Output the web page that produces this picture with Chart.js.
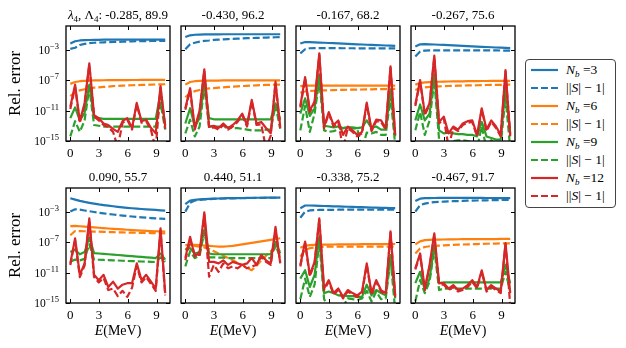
<!DOCTYPE html>
<html>
<head>
<meta charset="utf-8">
<script src="https://cdn.jsdelivr.net/npm/chart.js@4.4.0/dist/chart.umd.min.js"></script>
<style>
  body { margin: 0; background: #fff; width: 626px; height: 348px; overflow: hidden; position: relative;
         font-family: 'Liberation Serif', 'DejaVu Serif', serif; }
  canvas { position: absolute; }
  #legend { position: absolute; left: 525px; top: 59px; width: 91px; height: 149px; box-sizing: border-box;
            border: 1px solid #444; border-radius: 4px; background: #fff; }
  .item { position: absolute; left: 0; height: 18px; width: 90px; }
  .item svg { position: absolute; left: 4px; top: 0; }
  .item span { position: absolute; left: 40px; top: 1px; font-size: 13.5px; line-height: 16px; white-space: nowrap; }
  sub { font-size: 9px; vertical-align: -3px; line-height: 0; }
</style>
</head>
<body>
<div id="legend"></div>
<script>
/* ---------------------------------------------------------------------------
   Relative error vs energy, 2x4 grid of (lambda4, Lambda4) cases.
   Values are log10(relative error).
   Series order in every panel: Nb=3, ||S|-1| (Nb=3), Nb=6, ..., Nb=12, ||S|-1|
   --------------------------------------------------------------------------- */

const energies = [0.00, 0.50, 0.99, 1.49, 1.98, 2.48, 2.97, 3.47, 3.96, 4.46, 4.95,
                  5.45, 5.94, 6.44, 6.93, 7.43, 7.92, 8.42, 8.91, 9.41, 9.90];

const panelTitles = ['-0.285, 89.9', '-0.430, 96.2', '-0.167, 68.2', '-0.267, 75.6',
                     '0.090, 55.7', '0.440, 51.1', '-0.338, 75.2', '-0.467, 91.7'];

const basisSizes = [3, 6, 9, 12];
const xTickValues = [0, 3, 6, 9];
const yTickExponents = [-15, -11, -7, -3];

const panel1 = [
  [-2.2, -1.9, -1.8, -1.76, -1.74, -1.72, -1.71, -1.7, -1.7, -1.7, -1.7, -1.7, -1.7, -1.7, -1.7, -1.7, -1.7, -1.7, -1.7, -1.7, -1.7],
  [-2.9, -2.75, -2.4, -2.25, -2.15, -2.1, -2.07, -2.04, -2.02, -2.0, -1.98, -1.96, -1.94, -1.92, -1.9, -1.89, -1.88, -1.87, -1.86, -1.85, -1.84],
  [-7.5, -7.25, -7.15, -7.1, -7.07, -7.05, -7.03, -7.02, -7.01, -7.0, -7.0, -7.0, -7.0, -6.99, -6.99, -6.98, -6.98, -6.98, -6.97, -6.97, -6.97],
  [-9.1, -8.6, -8.35, -8.2, -8.1, -8.0, -7.95, -7.9, -7.85, -7.8, -7.76, -7.73, -7.7, -7.68, -7.66, -7.64, -7.62, -7.6, -7.58, -7.57, -7.55],
  [-12.0, -10.6, -12.3, -11.3, -7.6, -11.9, -12.0, -12.1, -12.1, -12.1, -12.1, -12.1, -12.1, -12.1, -12.1, -12.1, -12.1, -12.1, -12.1, -8.7, -12.9],
  [-14.4, -12.4, -13.8, -12.3, -8.0, -12.9, -13.0, -13.1, -13.1, -13.1, -13.1, -13.1, -13.1, -13.1, -13.1, -13.1, -13.1, -13.1, -13.1, -10.0, -13.5],
  [-10.5, -7.6, -12.4, -10.0, -4.8, -11.6, -12.0, -12.7, -12.9, -13.4, -13.8, -12.4, -12.0, -13.3, -10.0, -12.4, -12.2, -13.3, -14.0, -7.8, -13.1],
  [-10.8, -7.9, -12.6, -10.3, -5.0, -11.8, -12.3, -12.9, -13.2, -13.8, -15.8, -12.6, -12.2, -13.5, -10.2, -12.6, -12.4, -13.6, -16.0, -8.0, -13.4]
];

const panel2 = [
  [-1.35, -1.12, -1.05, -1.02, -1.0, -1.0, -0.99, -0.99, -0.98, -0.98, -0.98, -0.98, -0.98, -0.98, -0.98, -0.98, -0.98, -0.98, -0.98, -0.98, -0.98],
  [-2.95, -2.3, -2.1, -1.95, -1.85, -1.8, -1.73, -1.7, -1.66, -1.62, -1.59, -1.56, -1.53, -1.5, -1.48, -1.46, -1.44, -1.42, -1.4, -1.38, -1.37],
  [-7.6, -7.25, -7.15, -7.1, -7.08, -7.07, -7.06, -7.06, -7.05, -7.05, -7.05, -7.05, -7.05, -7.05, -7.05, -7.05, -7.05, -7.05, -7.05, -7.05, -7.05],
  [-9.25, -8.7, -8.45, -8.3, -8.2, -8.1, -8.05, -8.0, -7.95, -7.9, -7.86, -7.82, -7.78, -7.75, -7.72, -7.69, -7.66, -7.64, -7.62, -7.6, -7.6],
  [-12.7, -10.7, -13.1, -12.0, -7.4, -12.0, -12.15, -12.15, -12.15, -12.15, -12.15, -12.15, -12.15, -12.15, -12.15, -12.15, -12.15, -12.15, -12.15, -10.05, -12.2],
  [-14.0, -12.2, -14.4, -13.1, -7.8, -13.1, -13.1, -13.1, -13.2, -13.2, -13.3, -13.3, -13.4, -13.5, -13.6, -13.6, -13.6, -13.5, -13.5, -10.3, -13.4],
  [-10.7, -8.07, -13.3, -11.0, -5.6, -13.1, -13.0, -13.3, -12.7, -13.3, -12.9, -12.3, -11.4, -12.9, -9.6, -12.7, -12.5, -13.3, -14.0, -7.2, -13.1],
  [-10.9, -8.3, -13.5, -11.2, -5.8, -13.3, -13.2, -13.5, -12.9, -13.5, -13.1, -12.5, -11.6, -13.1, -9.8, -12.9, -12.8, -16.0, -14.3, -7.4, -13.3]
];

const panel3 = [
  [-2.2, -2.0, -2.02, -2.05, -2.08, -2.1, -2.13, -2.16, -2.19, -2.22, -2.25, -2.28, -2.3, -2.33, -2.36, -2.38, -2.41, -2.43, -2.46, -2.48, -2.5],
  [-3.5, -2.95, -2.82, -2.8, -2.8, -2.8, -2.8, -2.81, -2.81, -2.82, -2.82, -2.82, -2.83, -2.83, -2.83, -2.84, -2.84, -2.84, -2.85, -2.85, -2.85],
  [-7.8, -7.73, -7.73, -7.73, -7.73, -7.73, -7.73, -7.73, -7.73, -7.73, -7.73, -7.73, -7.73, -7.73, -7.73, -7.73, -7.73, -7.73, -7.73, -7.73, -7.73],
  [-8.65, -8.5, -8.42, -8.4, -8.38, -8.36, -8.34, -8.32, -8.3, -8.28, -8.27, -8.26, -8.25, -8.24, -8.22, -8.21, -8.2, -8.19, -8.18, -8.16, -8.15],
  [-11.4, -9.4, -11.7, -10.7, -6.3, -13.0, -13.1, -13.2, -13.1, -13.3, -13.2, -13.2, -13.3, -13.2, -12.3, -13.3, -13.1, -13.5, -13.5, -8.3, -14.4],
  [-13.6, -10.4, -13.8, -11.4, -7.0, -13.6, -13.8, -13.7, -13.5, -13.3, -13.2, -13.3, -13.4, -16.0, -13.9, -14.0, -13.8, -14.2, -14.2, -9.2, -15.5],
  [-10.4, -6.6, -11.0, -9.8, -3.5, -13.1, -11.2, -12.9, -12.3, -14.2, -13.1, -13.6, -14.2, -13.8, -9.96, -13.5, -12.2, -12.3, -13.3, -5.2, -14.2],
  [-10.6, -6.8, -11.2, -10.0, -3.7, -13.3, -11.4, -13.1, -12.5, -16.0, -13.3, -13.8, -14.4, -14.0, -10.2, -13.7, -12.4, -12.5, -13.5, -5.4, -14.5]
];

const panel4 = [
  [-2.6, -2.3, -2.28, -2.3, -2.33, -2.36, -2.39, -2.42, -2.45, -2.48, -2.51, -2.54, -2.57, -2.6, -2.63, -2.66, -2.69, -2.72, -2.75, -2.78, -2.8],
  [-3.9, -3.26, -3.13, -3.1, -3.1, -3.1, -3.1, -3.1, -3.1, -3.1, -3.1, -3.1, -3.1, -3.1, -3.1, -3.1, -3.11, -3.11, -3.12, -3.12, -3.13],
  [-7.6, -7.4, -7.3, -7.26, -7.24, -7.22, -7.2, -7.19, -7.18, -7.17, -7.16, -7.15, -7.14, -7.13, -7.12, -7.12, -7.11, -7.11, -7.1, -7.1, -7.1],
  [-8.3, -8.05, -7.95, -7.9, -7.86, -7.83, -7.8, -7.78, -7.76, -7.74, -7.72, -7.7, -7.69, -7.68, -7.66, -7.65, -7.64, -7.63, -7.62, -7.61, -7.6],
  [-12.3, -10.2, -12.3, -11.4, -6.3, -13.6, -14.0, -13.9, -14.0, -14.1, -14.1, -14.2, -14.2, -14.4, -12.5, -14.4, -14.6, -14.8, -14.8, -7.9, -14.0],
  [-13.6, -11.2, -14.2, -12.3, -7.0, -14.8, -15.5, -16.0, -15.0, -14.9, -14.9, -15.0, -15.2, -16.0, -13.1, -16.0, -14.9, -15.5, -15.5, -9.2, -16.0],
  [-10.2, -7.0, -11.4, -10.05, -3.8, -12.5, -11.8, -14.0, -13.1, -13.5, -12.7, -12.4, -12.3, -14.2, -10.7, -13.5, -12.3, -13.1, -14.2, -5.7, -14.2],
  [-10.4, -7.2, -11.6, -10.25, -4.0, -12.7, -12.0, -15.8, -13.3, -13.7, -12.9, -12.6, -12.5, -14.4, -10.9, -13.7, -12.5, -13.3, -14.4, -5.9, -14.4]
];

const panel5 = [
  [-1.24, -1.42, -1.59, -1.73, -1.85, -1.96, -2.06, -2.14, -2.22, -2.3, -2.37, -2.44, -2.5, -2.56, -2.61, -2.66, -2.7, -2.74, -2.78, -2.83, -2.87],
  [-3.0, -2.7, -2.75, -2.85, -2.95, -3.05, -3.15, -3.23, -3.31, -3.38, -3.45, -3.52, -3.58, -3.64, -3.7, -3.75, -3.8, -3.85, -3.89, -3.93, -3.96],
  [-4.9, -4.88, -4.92, -4.97, -5.02, -5.07, -5.12, -5.17, -5.22, -5.26, -5.3, -5.34, -5.38, -5.42, -5.46, -5.49, -5.52, -5.55, -5.58, -5.6, -5.63],
  [-6.1, -5.55, -5.55, -5.58, -5.6, -5.62, -5.64, -5.66, -5.68, -5.7, -5.72, -5.73, -5.75, -5.76, -5.78, -5.79, -5.8, -5.82, -5.83, -5.84, -5.85],
  [-8.3, -8.0, -8.6, -8.3, -6.4, -8.45, -8.5, -8.55, -8.6, -8.65, -8.7, -8.75, -8.8, -8.85, -8.9, -8.95, -9.0, -9.05, -9.1, -8.5, -9.3],
  [-9.6, -9.3, -9.4, -9.2, -7.3, -9.3, -9.32, -9.35, -9.38, -9.4, -9.42, -9.45, -9.48, -9.5, -9.52, -9.55, -9.57, -9.6, -9.62, -9.0, -9.6],
  [-9.8, -6.5, -11.3, -9.8, -3.9, -11.3, -12.0, -11.3, -12.9, -12.2, -13.1, -12.6, -12.4, -12.4, -9.8, -12.0, -11.3, -12.2, -13.1, -5.2, -13.7],
  [-10.0, -6.8, -11.6, -10.1, -4.2, -11.6, -12.3, -11.7, -13.3, -13.1, -14.1, -13.4, -14.2, -13.0, -10.1, -12.3, -11.6, -12.5, -13.4, -5.5, -14.0]
];

const panel6 = [
  [-2.03, -1.55, -1.45, -1.4, -1.36, -1.33, -1.3, -1.28, -1.26, -1.24, -1.23, -1.22, -1.21, -1.2, -1.19, -1.18, -1.18, -1.17, -1.17, -1.16, -1.16],
  [-3.0, -1.85, -1.55, -1.45, -1.4, -1.36, -1.33, -1.3, -1.28, -1.26, -1.25, -1.24, -1.23, -1.22, -1.21, -1.2, -1.19, -1.19, -1.18, -1.18, -1.17],
  [-7.4, -7.35, -7.35, -7.4, -7.45, -7.5, -7.55, -7.6, -7.6, -7.55, -7.5, -7.4, -7.3, -7.2, -7.1, -7.0, -6.9, -6.8, -6.7, -6.6, -6.5],
  [-8.0, -7.4, -7.5, -7.6, -7.7, -7.9, -8.2, -8.5, -8.8, -9.1, -9.4, -9.7, -10.0, -10.4, -10.7, -10.1, -9.4, -8.8, -8.2, -7.8, -8.2],
  [-8.0, -7.8, -8.5, -8.3, -5.4, -8.5, -8.6, -8.6, -8.6, -8.6, -8.6, -8.6, -8.6, -8.6, -8.6, -8.6, -8.6, -8.6, -8.6, -7.0, -8.5],
  [-10.2, -8.2, -9.1, -8.8, -5.6, -9.0, -9.0, -9.05, -9.05, -9.1, -9.1, -9.1, -9.1, -9.1, -9.1, -9.1, -9.1, -9.1, -9.1, -7.4, -9.0],
  [-9.1, -6.3, -8.9, -8.35, -3.1, -9.6, -9.6, -9.8, -9.4, -10.0, -9.6, -9.8, -10.0, -9.8, -9.1, -10.0, -8.7, -9.4, -9.8, -5.0, -9.8],
  [-9.4, -6.7, -8.7, -8.7, -3.4, -11.55, -10.0, -10.9, -9.8, -10.45, -10.2, -10.45, -10.0, -10.45, -10.2, -10.0, -8.9, -9.6, -10.0, -5.6, -9.6]
];

const panel7 = [
  [-2.55, -2.2, -2.2, -2.22, -2.24, -2.26, -2.28, -2.3, -2.32, -2.34, -2.36, -2.38, -2.4, -2.42, -2.44, -2.46, -2.48, -2.5, -2.52, -2.54, -2.55],
  [-3.8, -3.0, -2.85, -2.8, -2.78, -2.77, -2.76, -2.76, -2.75, -2.75, -2.75, -2.75, -2.75, -2.75, -2.75, -2.75, -2.75, -2.75, -2.75, -2.75, -2.75],
  [-7.74, -7.5, -7.4, -7.37, -7.35, -7.34, -7.33, -7.32, -7.31, -7.3, -7.3, -7.29, -7.29, -7.28, -7.28, -7.27, -7.27, -7.26, -7.26, -7.25, -7.25],
  [-8.9, -8.05, -7.8, -7.7, -7.65, -7.62, -7.6, -7.6, -7.6, -7.6, -7.6, -7.6, -7.6, -7.6, -7.6, -7.6, -7.6, -7.6, -7.6, -7.6, -7.6],
  [-11.8, -10.7, -12.9, -11.3, -6.3, -13.7, -13.5, -13.7, -14.0, -14.05, -14.1, -14.1, -14.2, -14.2, -12.6, -14.0, -13.3, -13.7, -14.0, -8.7, -14.4],
  [-14.5, -11.8, -14.2, -12.6, -6.9, -14.5, -15.5, -15.5, -16.0, -15.5, -14.4, -14.5, -14.6, -14.4, -13.4, -14.8, -13.5, -14.5, -14.4, -9.2, -16.0],
  [-10.0, -6.95, -11.3, -9.6, -3.9, -13.1, -12.0, -13.7, -13.1, -14.2, -13.3, -13.7, -14.0, -13.5, -9.8, -13.7, -12.0, -13.3, -13.7, -5.6, -14.0],
  [-10.2, -7.1, -11.5, -9.8, -4.1, -13.3, -12.2, -13.9, -13.3, -14.4, -13.5, -13.9, -14.2, -13.7, -10.0, -13.9, -12.2, -13.5, -13.9, -5.8, -14.2]
];

const panel8 = [
  [-1.6, -1.3, -1.24, -1.22, -1.21, -1.2, -1.2, -1.2, -1.2, -1.2, -1.2, -1.2, -1.2, -1.2, -1.2, -1.21, -1.21, -1.22, -1.22, -1.23, -1.24],
  [-3.0, -2.15, -1.95, -1.82, -1.76, -1.72, -1.69, -1.66, -1.63, -1.61, -1.59, -1.57, -1.56, -1.54, -1.53, -1.52, -1.5, -1.49, -1.48, -1.47, -1.46],
  [-7.3, -6.9, -6.75, -6.7, -6.68, -6.67, -6.66, -6.65, -6.64, -6.63, -6.62, -6.62, -6.61, -6.61, -6.6, -6.6, -6.6, -6.6, -6.59, -6.59, -6.59],
  [-8.5, -7.85, -7.65, -7.55, -7.5, -7.46, -7.43, -7.4, -7.37, -7.34, -7.32, -7.3, -7.28, -7.26, -7.24, -7.22, -7.21, -7.2, -7.18, -7.17, -7.16],
  [-12.4, -10.9, -13.3, -11.8, -7.4, -12.4, -12.3, -12.3, -12.3, -12.3, -12.3, -12.3, -12.3, -12.3, -12.3, -12.3, -12.3, -12.3, -12.3, -10.0, -12.4],
  [-14.8, -12.0, -13.7, -12.2, -7.8, -13.3, -13.1, -13.1, -13.1, -13.1, -13.1, -13.1, -13.1, -13.1, -13.1, -13.1, -13.1, -13.1, -13.1, -10.9, -13.5],
  [-10.45, -8.5, -13.1, -10.0, -5.85, -12.4, -12.4, -13.1, -12.65, -13.3, -13.1, -12.65, -12.0, -12.9, -10.7, -13.3, -12.65, -13.1, -13.5, -7.15, -13.7],
  [-10.6, -8.7, -13.3, -10.2, -6.0, -12.6, -12.6, -13.3, -12.9, -13.5, -13.3, -12.9, -12.2, -13.1, -10.9, -13.5, -12.9, -13.3, -13.7, -7.3, -15.3]
];

const panels = [panel1, panel2, panel3, panel4, panel5, panel6, panel7, panel8];

// ---- styling / layout ------------------------------------------------------
const lineColors = ['#1f77b4', '#ff7f0e', '#2ca02c', '#d62728'];
const DASH = [7, 3];
const SERIF = "'Liberation Serif', 'DejaVu Serif', serif";
const colLefts = [66, 181, 296, 411];
const rowTops = [26, 188];
const FRAME_W = 104, FRAME_H = 115;

function font(size, style) {
    return (style ? style + ' ' : '') + size + 'px ' + SERIF;
}

// draw a run of text pieces (for sub/superscripts and italics)
function drawRich(ctx, parts, x, y, align) {
    let total = 0;
    parts.forEach(p => { ctx.font = p.font; p.w = ctx.measureText(p.text).width; total += p.w; });
    let cx = align === 'right' ? x - total : (align === 'center' ? x - total / 2 : x);
    ctx.textAlign = 'left';
    parts.forEach(p => {
        ctx.font = p.font;
        ctx.fillText(p.text, cx, y + (p.dy || 0));
        cx += p.w;
    });
}

const panelDecor = {
    id: 'panelDecor',
    afterDatasetsDraw(chart, args, opts) {
        const { ctx, chartArea: a } = chart;
        const xs = chart.scales.x, ys = chart.scales.y;
        ctx.save();
        ctx.strokeStyle = '#000';
        ctx.fillStyle = '#000';
        ctx.textBaseline = 'alphabetic';

        // inward ticks on all four sides
        ctx.lineWidth = 1;
        ctx.beginPath();
        xTickValues.forEach(v => {
            const px = Math.round(xs.getPixelForValue(v)) + 0.5;
            ctx.moveTo(px, a.bottom); ctx.lineTo(px, a.bottom - 4);
            ctx.moveTo(px, a.top); ctx.lineTo(px, a.top + 4);
        });
        yTickExponents.forEach(e => {
            const py = Math.round(ys.getPixelForValue(Math.pow(10, e))) + 0.5;
            ctx.moveTo(a.left, py); ctx.lineTo(a.left + 4, py);
            ctx.moveTo(a.right, py); ctx.lineTo(a.right - 4, py);
        });
        ctx.stroke();

        ctx.lineWidth = 1.3;
        ctx.strokeRect(a.left, a.top, a.right - a.left, a.bottom - a.top);

        // x tick labels
        ctx.font = font(13);
        ctx.textAlign = 'center';
        xTickValues.forEach(v => {
            ctx.fillText(String(v), xs.getPixelForValue(v), a.bottom + 15.5);
        });

        // y tick labels + axis title, first column only
        if (opts.col === 0) {
            yTickExponents.forEach(e => {
                const py = ys.getPixelForValue(Math.pow(10, e));
                drawRich(ctx, [
                    { text: '10', font: font(11.5) },
                    { text: '\u2212' + Math.abs(e), font: font(8.5), dy: -5 }
                ], a.left - 7, py + 4, 'right');
            });
            ctx.save();
            ctx.translate(a.left - 46, (a.top + a.bottom) / 2);
            ctx.rotate(-Math.PI / 2);
            ctx.font = font(17);
            ctx.textAlign = 'center';
            ctx.fillText('Rel. error', 0, 0);
            ctx.restore();
        }

        // panel title
        const cx = (a.left + a.right) / 2;
        if (opts.index === 0) {
            drawRich(ctx, [
                { text: '\u03bb', font: font(13, 'italic') },
                { text: '4', font: font(9), dy: 3 },
                { text: ', \u039b', font: font(13) },
                { text: '4', font: font(9), dy: 3 },
                { text: ': ' + opts.title, font: font(13) }
            ], cx, a.top - 7, 'center');
        } else {
            ctx.font = font(13);
            ctx.textAlign = 'center';
            ctx.fillText(opts.title, cx, a.top - 7);
        }

        // energy label under bottom row
        if (opts.row === 1) {
            drawRich(ctx, [
                { text: 'E', font: font(14, 'italic') },
                { text: '(MeV)', font: font(14) }
            ], cx, a.bottom + 32, 'center');
        }
        ctx.restore();
    }
};

function createPanel(index) {
    const row = index < 4 ? 0 : 1;
    const col = index % 4;
    const pad = { left: col === 0 ? 62 : 10, right: 10, top: 22, bottom: row === 0 ? 22 : 45 };

    const canvas = document.createElement('canvas');
    canvas.width = pad.left + FRAME_W + pad.right;
    canvas.height = pad.top + FRAME_H + pad.bottom;
    canvas.style.left = (colLefts[col] - pad.left) + 'px';
    canvas.style.top = (rowTops[row] - pad.top) + 'px';
    document.body.appendChild(canvas);

    const datasets = panels[index].map((logVals, i) => ({
        label: (i % 2 ? '||S|-1| ' : 'Nb=') + basisSizes[i >> 1],
        data: energies.map((e, k) => ({ x: e, y: Math.pow(10, logVals[k]) })),
        borderColor: lineColors[i >> 1],
        borderWidth: 2.2,
        borderDash: i % 2 ? DASH : [],
        borderJoinStyle: 'round',
        pointRadius: 0,
        tension: 0,
        fill: false,
        order: 8 - i
    }));

    new Chart(canvas.getContext('2d'), {
        type: 'line',
        data: { datasets },
        options: {
            responsive: false,
            animation: false,
            events: [],
            layout: { padding: pad },
            scales: {
                x: { type: 'linear', min: -0.45, max: 10.4, display: false },
                y: { type: 'logarithmic', min: 1e-15, max: 1.26, display: false }
            },
            plugins: {
                legend: { display: false },
                tooltip: { enabled: false },
                panelDecor: { index, row, col, title: panelTitles[index] }
            }
        },
        plugins: [panelDecor]
    });
}

panels.forEach((p, i) => createPanel(i));

// ---- legend (HTML) -----------------------------------------------------------
const legend = document.getElementById('legend');
basisSizes.forEach((nb, j) => {
    [0, 1].forEach(dashed => {
        const i = j * 2 + dashed;
        const item = document.createElement('div');
        item.className = 'item';
        item.style.top = (1 + 18 * i) + 'px';
        const dash = dashed ? ' stroke-dasharray="' + DASH.join(' ') + '"' : '';
        item.innerHTML =
            '<svg width="30" height="18"><line x1="1" y1="9" x2="28" y2="9" stroke="' + lineColors[j] +
            '" stroke-width="2.2"' + dash + '/></svg>' +
            (dashed ? '<span>||<i>S</i>| \u2212 1|</span>'
                    : '<span><i>N</i><sub><i>b</i></sub> =' + nb + '</span>');
        legend.appendChild(item);
    });
});
</script>
</body>
</html>
